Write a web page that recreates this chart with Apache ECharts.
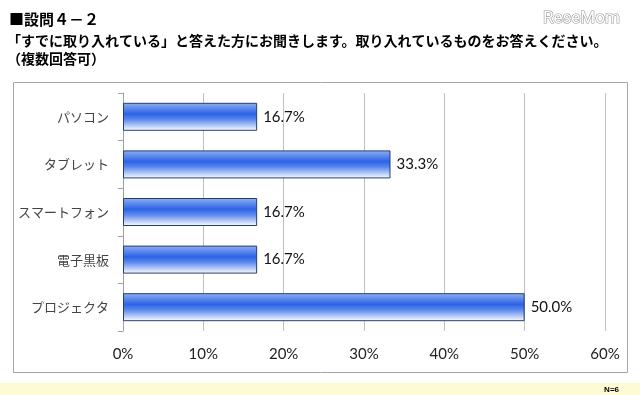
<!DOCTYPE html>
<html><head><meta charset="utf-8">
<script src="https://cdn.jsdelivr.net/npm/echarts@6/dist/echarts.min.js"></script>
<style>html,body{margin:0;padding:0;background:#fff}#c{width:640px;height:395px}</style>
</head><body><div id="c"></div>
<script>
const categories = ['パソコン', 'タブレット', 'スマートフォン', '電子黒板', 'プロジェクタ'];
const values = [16.7, 33.3, 16.7, 16.7, 50.0];
const xTicks = [0, 10, 20, 30, 40, 50, 60];

const chart = echarts.init(document.getElementById('c'), null, {renderer: 'canvas'});
const jp = '"Noto Sans CJK JP", sans-serif';
chart.setOption({
  backgroundColor: '#fff',
  animation: false,
  title: [
    {text: '■設問４－２', left: 4, top: 7, textStyle: {fontFamily: jp, fontSize: 15, fontWeight: 'bold', color: '#000'}},
    {text: '「すでに取り入れている」と答えた方にお聞きします。取り入れているものをお答えください。', left: 2, top: 29, textStyle: {fontFamily: jp, fontSize: 14, fontWeight: 'bold', color: '#000'}},
    {text: '（複数回答可）', left: 2, top: 47, textStyle: {fontFamily: jp, fontSize: 14, fontWeight: 'bold', color: '#000'}},
    {text: 'ReseMom', right: 14, top: 5, textStyle: {fontFamily: 'Roboto, sans-serif', fontSize: 17, fontWeight: 'normal', color: '#fff', textBorderColor: '#9a9a9a', textBorderWidth: 1.2}},
    {text: 'N=6', right: 16, top: 381, textStyle: {fontFamily: 'Liberation Sans, sans-serif', fontSize: 8, fontWeight: 'bold', color: '#000'}}
  ],
  graphic: [
    {type: 'rect', shape: {x: 0, y: 383, width: 640, height: 12}, style: {fill: '#fcfbd4'}, silent: true, z: -10},
    {type: 'rect', shape: {x: 13.5, y: 82.5, width: 614, height: 290}, style: {fill: 'none', stroke: '#a6a6a6', lineWidth: 1}, silent: true, z: -5}
  ],
  grid: {left: 123, right: 35, top: 93, bottom: 64, containLabel: false},
  xAxis: {
    type: 'value', min: 0, max: 60, interval: 10,
    axisLine: {show: false},
    axisTick: {show: false},
    splitLine: {show: true, lineStyle: {color: '#bfbfbf', width: 1}},
    axisLabel: {formatter: v => xTicks.includes(v) ? v + '%' : '', fontFamily: 'Lato, "Open Sans", sans-serif', fontSize: 15, color: '#222', margin: 16}
  },
  yAxis: {
    type: 'category', data: categories, inverse: true,
    axisLine: {show: true, lineStyle: {color: '#a0a0a0'}},
    axisTick: {show: true, length: 5, lineStyle: {color: '#a0a0a0'}},
    axisLabel: {fontFamily: jp, fontSize: 13, color: '#444', margin: 14}
  },
  series: [{
    type: 'bar', data: values, barWidth: 28,
    itemStyle: {
      borderColor: '#243f6e', borderWidth: 1,
      color: new echarts.graphic.LinearGradient(0, 0, 0, 1, [
        {offset: 0, color: '#8fb0f2'},
        {offset: 0.4, color: '#2c63e6'},
        {offset: 0.6, color: '#5d8aee'},
        {offset: 1, color: '#ffffff'}
      ])
    },
    label: {show: true, position: 'right', distance: 6, formatter: p => p.value.toFixed(1) + '%', fontFamily: 'Lato, "Open Sans", sans-serif', fontSize: 15, color: '#111'}
  }]
});
</script></body></html>
